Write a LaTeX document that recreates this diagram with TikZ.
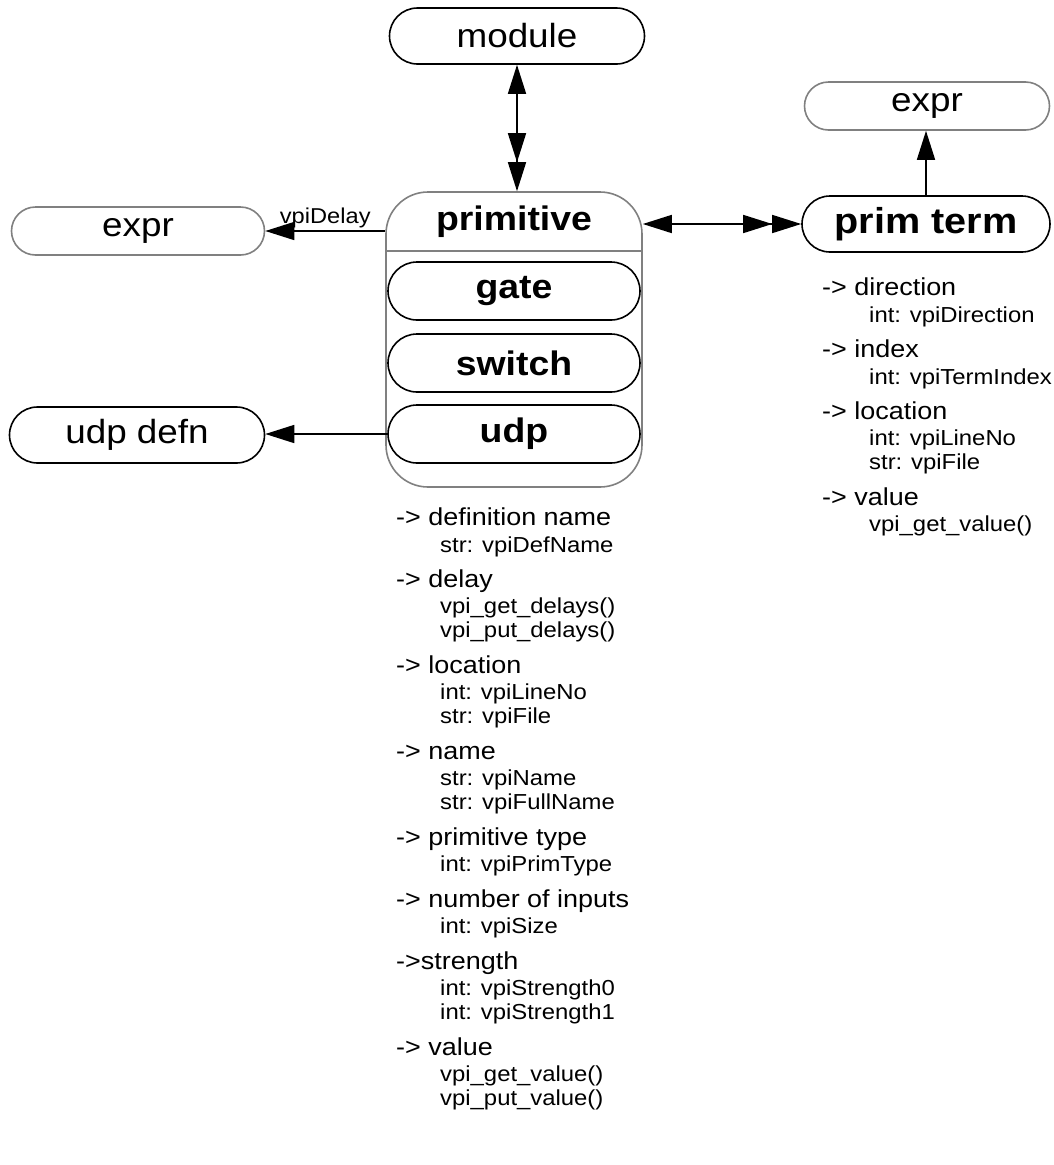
\documentclass[tikz,border=0pt]{standalone}
\usepackage{fontspec}
\setmainfont{Liberation Sans}[FakeStretch=1.1]
\usetikzlibrary{arrows.meta, shapes.misc, positioning}

\begin{document}
\begin{tikzpicture}[
    x=1pt, y=-1pt,
    >={Triangle[length=29pt,width=18pt]},
    obj/.style={draw, rounded rectangle, line width=1.6pt, minimum height=56pt, inner sep=0pt, font=\fontsize{33.5}{38}\selectfont},
    ref/.style={obj, draw=gray, minimum height=48pt},
    cls/.style={obj, font=\fontsize{34}{38}\selectfont\bfseries, minimum width=252pt, minimum height=58pt},
    conn/.style={line width=1.6pt},
    prop/.style={anchor=base west, inner sep=0pt, font=\fontsize{24.5}{28}\selectfont},
    val/.style={anchor=base west, inner sep=0pt, font=\fontsize{21.7}{25}\selectfont},
  ]
  \useasboundingbox (0,0) rectangle (1054,1165);
  % objects
  \node[obj, minimum width=255pt] (module) at (517,36) {module};
  \node[draw=gray, line width=1.6pt, rounded corners=42pt, minimum width=256pt, minimum height=295pt] (prim) at (514,339.5) {};
  \coordinate (hdr) at (514,251);
  \node[font=\fontsize{34}{38}\selectfont\bfseries] (primlbl) at (514,222) {primitive};
  \node[cls] (gate) at (514,291) {gate};
  \node[cls] (switch) at (514,363) {switch};
  \node[cls] (udp) at (514,434) {udp};
  \node[ref, minimum width=253pt] (exprL) at (138,231) {expr};
  \node[obj, minimum width=255pt] (udpdefn) at (137,435) {udp defn};
  \node[obj, font=\fontsize{36}{40}\selectfont\bfseries, minimum width=248pt] (primterm) at (926,224) {prim term};
  \node[ref, minimum width=245pt] (exprR) at (927,106) {expr};
  \draw[gray, line width=1.6pt] (prim.west |- hdr) -- (prim.east |- hdr);
  % connectors
  \draw[conn, <->>] (module.south) -- (module.south |- prim.north);
  \draw[conn, ->] (prim.west |- exprL) -- node[above, inner sep=2pt, font=\fontsize{21.5}{24}\selectfont] (dlylbl) {vpiDelay} (exprL.east);
  \draw[conn, ->] (udp.west) -- (udpdefn.east |- udp.west);
  \draw[conn, <->>] (prim.east |- primterm.west) -- (primterm.west);
  \draw[conn, ->] (primterm.north) -- (primterm.north |- exprR.south);
  % prim term properties
  \node[prop] (pt1) at (822,295) {-> direction};
  \node[val]  (pt1a) at (869,322) {int: vpiDirection};
  \node[prop] (pt2) at (822,357) {-> index};
  \node[val]  (pt2a) at (869,384) {int: vpiTermIndex};
  \node[prop] (pt3) at (822,419) {-> location};
  \node[val]  (pt3a) at (869,445) {int: vpiLineNo};
  \node[val]  (pt3b) at (869,469) {str: vpiFile};
  \node[prop] (pt4) at (822,505) {-> value};
  \node[val]  (pt4a) at (869,531) {vpi\_get\_value()};
  % primitive properties
  \node[prop] (pr1) at (396,525) {-> definition name};
  \node[val]  (pr1a) at (440,552) {str: vpiDefName};
  \node[prop] (pr2) at (396,587) {-> delay};
  \node[val]  (pr2a) at (440,613) {vpi\_get\_delays()};
  \node[val]  (pr2b) at (440,637) {vpi\_put\_delays()};
  \node[prop] (pr3) at (396,673) {-> location};
  \node[val]  (pr3a) at (440,699) {int: vpiLineNo};
  \node[val]  (pr3b) at (440,723) {str: vpiFile};
  \node[prop] (pr4) at (396,759) {-> name};
  \node[val]  (pr4a) at (440,785) {str: vpiName};
  \node[val]  (pr4b) at (440,809) {str: vpiFullName};
  \node[prop] (pr5) at (396,845) {-> primitive type};
  \node[val]  (pr5a) at (440,871) {int: vpiPrimType};
  \node[prop] (pr6) at (396,907) {-> number of inputs};
  \node[val]  (pr6a) at (440,933) {int: vpiSize};
  \node[prop] (pr7) at (396,969) {->strength};
  \node[val]  (pr7a) at (440,995) {int: vpiStrength0};
  \node[val]  (pr7b) at (440,1019) {int: vpiStrength1};
  \node[prop] (pr8) at (396,1055) {-> value};
  \node[val]  (pr8a) at (440,1081) {vpi\_get\_value()};
  \node[val]  (pr8b) at (440,1105) {vpi\_put\_value()};
\end{tikzpicture}
\end{document}
